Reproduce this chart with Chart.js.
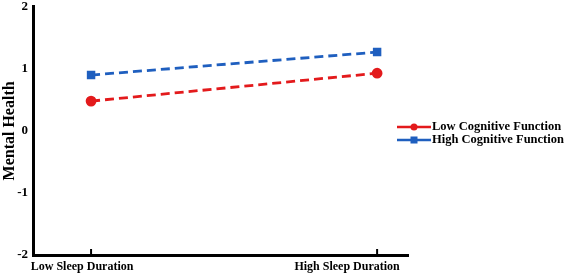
<!DOCTYPE html>
<html>
<head>
<meta charset="utf-8">
<script src="https://cdn.jsdelivr.net/npm/chart.js@4.4.0/dist/chart.umd.min.js"></script>
<style>
  html, body { margin: 0; padding: 0; background: #fff; }
  #wrap { width: 569px; height: 275px; }
</style>
</head>
<body>
<div id="wrap"><canvas id="myChart" width="569" height="275"></canvas></div>
<script>
var sleepLabels = ['Low Sleep Duration', 'High Sleep Duration'];
var lowCognitive = [0.48, 0.93];
var highCognitive = [0.90, 1.27];
var yTicks = [-2, -1, 0, 1, 2];

var serif = "'Liberation Serif', 'DejaVu Serif', serif";
var red = '#e31a1c';
var blue = '#1f5fbf';

function toPoints(values) {
    return values.map(function (v, i) { return { x: i, y: v }; });
}

// label shift from the tick, the original has them sitting left of the ticks
var labelShift = [-9, -30];

// tick marks pointing up from the x axis, x labels, legend with line-marker-line
var extras = {
    id: 'extras',
    afterDraw: function (chart) {
        var ctx = chart.ctx;
        var xs = chart.scales.x;
        var bottom = chart.chartArea.bottom;
        ctx.save();
        ctx.strokeStyle = '#000';
        ctx.lineWidth = 2;
        sleepLabels.forEach(function (l, i) {
            var px = xs.getPixelForValue(i);
            ctx.beginPath();
            ctx.moveTo(px, bottom);
            ctx.lineTo(px, bottom - 6);
            ctx.stroke();
            ctx.fillStyle = '#000';
            ctx.font = 'bold 12px ' + serif;
            ctx.textAlign = 'center';
            ctx.textBaseline = 'middle';
            ctx.fillText(l, px + labelShift[i], bottom + 12);
        });

        var rows = [
            { text: 'Low Cognitive Function', color: red, style: 'circle', y: 127 },
            { text: 'High Cognitive Function', color: blue, style: 'rect', y: 140 }
        ];
        rows.forEach(function (r) {
            ctx.strokeStyle = r.color;
            ctx.fillStyle = r.color;
            ctx.lineWidth = 2.5;
            ctx.beginPath();
            ctx.moveTo(397, r.y);
            ctx.lineTo(431, r.y);
            ctx.stroke();
            if (r.style === 'circle') {
                ctx.beginPath();
                ctx.arc(414, r.y, 3.5, 0, Math.PI * 2);
                ctx.fill();
            } else {
                ctx.fillRect(410.5, r.y - 3.5, 7, 7);
            }
            ctx.fillStyle = '#000';
            ctx.font = 'bold 12.5px ' + serif;
            ctx.textBaseline = 'middle';
            ctx.textAlign = 'left';
            ctx.fillText(r.text, 432, r.y);
        });
        ctx.restore();
    }
};

var ctx = document.getElementById('myChart');
var myChart = new Chart(ctx, {
    type: 'line',
    plugins: [extras],
    data: {
        datasets: [{
            label: 'Low Cognitive Function',
            data: toPoints(lowCognitive),
            borderColor: red,
            backgroundColor: red,
            borderWidth: 2.8,
            borderDash: [9, 5],
            pointStyle: 'circle',
            pointRadius: 4,
            pointHoverRadius: 4
        }, {
            label: 'High Cognitive Function',
            data: toPoints(highCognitive),
            borderColor: blue,
            backgroundColor: blue,
            borderWidth: 2.8,
            borderDash: [9, 5],
            pointStyle: 'rect',
            pointRadius: 4,
            pointHoverRadius: 4
        }]
    },
    options: {
        responsive: false,
        animation: false,
        layout: {
            padding: { top: 5, right: 161, left: 0, bottom: 0 }
        },
        plugins: {
            legend: { display: false },
            tooltip: { enabled: false }
        },
        scales: {
            x: {
                type: 'linear',
                min: -0.203,
                max: 1.108,
                afterBuildTicks: function (axis) {
                    axis.ticks = sleepLabels.map(function (l, i) { return { value: i }; });
                },
                afterFit: function (axis) { axis.height = 20; },
                grid: { display: false },
                border: { display: true, color: '#000', width: 3 },
                ticks: { display: false }
            },
            y: {
                min: -2,
                max: 2,
                afterBuildTicks: function (axis) {
                    axis.ticks = yTicks.map(function (v) { return { value: v }; });
                },
                afterFit: function (axis) { axis.width = 33; },
                grid: { display: false },
                border: { display: true, color: '#000', width: 3 },
                title: {
                    display: true,
                    text: 'Mental Health',
                    color: '#000',
                    padding: 0,
                    font: { family: serif, size: 16, weight: 'bold' }
                },
                ticks: {
                    color: '#000',
                    padding: -3,
                    font: { family: serif, size: 13, weight: 'bold' }
                }
            }
        }
    }
});
</script>
</body>
</html>
